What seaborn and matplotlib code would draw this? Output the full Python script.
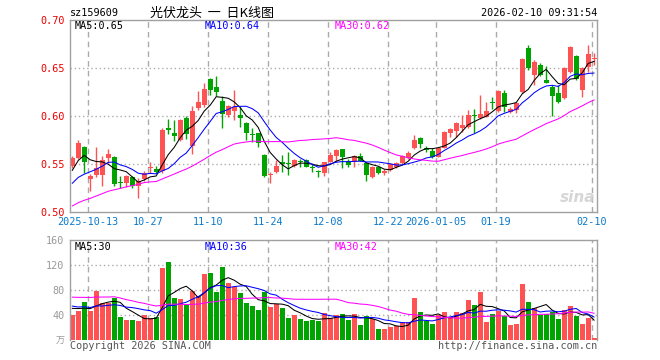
import numpy as np
import pandas as pd
import matplotlib
matplotlib.use("Agg")
import matplotlib.pyplot as plt
import seaborn as sns

# ---------------- data ----------------
open_ = [0.548, 0.556, 0.568, 0.534, 0.539, 0.539, 0.556, 0.557, 0.5305, 0.530,
         0.536, 0.527, 0.534, 0.5455, 0.545, 0.5425, 0.587, 0.582, 0.575, 0.598,
         0.569, 0.608, 0.611, 0.6385, 0.6305, 0.6155, 0.601, 0.6055, 0.601, 0.5925,
         0.581, 0.582, 0.5595, 0.5385, 0.542, 0.551, 0.5507, 0.548, 0.5528, 0.554,
         0.547, 0.5423, 0.541, 0.5524, 0.5583, 0.5656, 0.5535, 0.5524, 0.5583, 0.5514,
         0.5361, 0.5472, 0.5403, 0.5437, 0.5472, 0.5507, 0.5559, 0.5663, 0.5767, 0.567,
         0.5639, 0.5576, 0.567, 0.5826, 0.5844, 0.5872, 0.5882, 0.6003, 0.5976, 0.5993,
         0.6141, 0.6056, 0.6243, 0.6045, 0.6063, 0.6253, 0.6705, 0.6427, 0.6531, 0.6375,
         0.6306, 0.6243, 0.6184, 0.6462, 0.6625, 0.6271, 0.6514, 0.6597]
high = [0.558, 0.575, 0.569, 0.540, 0.568, 0.558, 0.566, 0.558, 0.538, 0.539,
        0.537, 0.535, 0.543, 0.552, 0.548, 0.588, 0.597, 0.596, 0.5965, 0.600,
        0.610, 0.626, 0.634, 0.6395, 0.642, 0.621, 0.6115, 0.627, 0.609, 0.594,
        0.587, 0.582, 0.560, 0.542, 0.554, 0.5595, 0.563, 0.555, 0.555, 0.555,
        0.550, 0.5437, 0.5525, 0.563, 0.566, 0.566, 0.555, 0.559, 0.5618, 0.5524,
        0.548, 0.548, 0.5444, 0.5507, 0.5524, 0.5594, 0.5639, 0.5802, 0.5778, 0.5688,
        0.5663, 0.568, 0.5847, 0.5872, 0.5941, 0.601, 0.6063, 0.607, 0.6219, 0.6149,
        0.620, 0.627, 0.627, 0.609, 0.6149, 0.660, 0.674, 0.6583, 0.6556, 0.652,
        0.6323, 0.6323, 0.6507, 0.673, 0.6635, 0.6514, 0.674, 0.666]
low = [0.546, 0.555, 0.541, 0.522, 0.536, 0.527, 0.551, 0.527, 0.525, 0.526,
       0.525, 0.515, 0.532, 0.5405, 0.5405, 0.541, 0.581, 0.574, 0.574, 0.576,
       0.560, 0.6065, 0.609, 0.622, 0.621, 0.588, 0.599, 0.596, 0.589, 0.5755,
       0.573, 0.568, 0.536, 0.530, 0.541, 0.542, 0.5385, 0.547, 0.547, 0.5465,
       0.542, 0.536, 0.537, 0.552, 0.5524, 0.5455, 0.547, 0.547, 0.553, 0.5326,
       0.535, 0.5396, 0.5385, 0.543, 0.5455, 0.550, 0.5548, 0.5653, 0.5663, 0.5628,
       0.556, 0.557, 0.5663, 0.5785, 0.5785, 0.5837, 0.5872, 0.5826, 0.5965, 0.5986,
       0.607, 0.6045, 0.6045, 0.6028, 0.6028, 0.6243, 0.6479, 0.6323, 0.6417, 0.634,
       0.600, 0.6139, 0.6174, 0.6451, 0.6375, 0.620, 0.6462, 0.6531]
close = [0.556, 0.572, 0.552, 0.537, 0.546, 0.554, 0.560, 0.529, 0.530, 0.537,
         0.527, 0.532, 0.541, 0.546, 0.5415, 0.585, 0.585, 0.579, 0.596, 0.581,
         0.6055, 0.615, 0.628, 0.627, 0.625, 0.602, 0.6105, 0.609, 0.5975, 0.582,
         0.5805, 0.5715, 0.537, 0.539, 0.548, 0.5505, 0.5503, 0.554, 0.552, 0.547,
         0.5462, 0.542, 0.5524, 0.5594, 0.5646, 0.557, 0.549, 0.5583, 0.5535, 0.5385,
         0.5472, 0.541, 0.543, 0.550, 0.5514, 0.5583, 0.5618, 0.575, 0.5708, 0.5646,
         0.5576, 0.567, 0.5837, 0.5861, 0.5931, 0.5906, 0.601, 0.5997, 0.6017, 0.6056,
         0.6137, 0.6264, 0.6097, 0.6069, 0.6132, 0.659, 0.6497, 0.6566, 0.6427, 0.6347,
         0.6208, 0.6149, 0.6497, 0.6722, 0.6382, 0.6497, 0.6642, 0.6603]
volume = [40, 46.4, 60.3, 46.4, 78.9, 58.7, 58.7, 67.7, 37.3, 32,
          32, 30.4, 40, 34.7, 37.3, 115.7, 125.3, 67.7, 65.6, 56,
          78.4, 71, 105.6, 107.5, 76.8, 117.2, 91.5, 85.3, 75.5, 59,
          54.6, 48, 76.5, 53.3, 57, 52, 35.7, 40, 33, 31,
          32, 30, 43.7, 35.2, 40, 41.6, 32.5, 41.6, 24, 38.9,
          33.6, 17.6, 17.6, 21.2, 23, 28.2, 28.6, 67.7, 44.8, 30.7,
          25.6, 40, 44.8, 35.7, 44.8, 43.5, 64, 56, 77, 29,
          41.6, 46.6, 38.4, 24.5, 26, 89.6, 61, 51.5, 40, 41.6,
          45.3, 33.6, 48, 54.7, 39, 25.6, 35.5, 3.4]
# closes / volumes of the 29 sessions before the window (needed for the MAs at the left edge)
hist_close = [0.470, 0.475, 0.478, 0.472, 0.480, 0.485, 0.483, 0.488, 0.486, 0.490,
              0.492, 0.485, 0.525, 0.530, 0.505, 0.510, 0.500, 0.515, 0.508, 0.512,
              0.510, 0.518, 0.512, 0.520, 0.522, 0.520, 0.525, 0.560, 0.555]
hist_volume = [55, 60, 52, 58, 62, 54, 58, 95, 110, 88,
               102, 92, 105, 94, 78, 72, 70, 66, 74, 68,
               62, 55, 60, 52, 61, 48, 57, 50, 58]

date_pos = [3, 13, 23, 33, 43, 53, 61, 71, 87]
date_labels = ["2025-10-13", "10-27", "11-10", "11-24", "12-08", "12-22",
               "2026-01-05", "01-19", "02-10"]
price_ticks = [0.50, 0.55, 0.60, 0.65, 0.70]
price_labels = ["0.50", "0.55", "0.60", "0.65", "0.70"]
vol_ticks = [40, 80, 120, 160]
vol_labels = ["40", "80", "120", "160"]
ma_price_text = ["MA5:0.65", "MA10:0.64", "MA30:0.62"]
ma_vol_text = ["MA5:30", "MA10:36", "MA30:42"]
ma_windows = [5, 10, 30]

# ---------------- styling ----------------
RED = "#ff5252"
GREEN = "#00a400"
MA_COLORS = ["#000000", "#0000ff", "#ff00ff"]
GRID = "#ababab"
SPINE = "#a0a0a0"
DATE_BLUE = "#0a7acc"

sns.set_style("white")
plt.rcParams["font.family"] = ["DejaVu Sans Mono", "Noto Sans CJK SC"]

W, H = 660, 360
fig = plt.figure(figsize=(W / 100, H / 100), dpi=100)
fig.patch.set_facecolor("white")

def fx(x):
    return x / W

def fy(y):
    return 1 - y / H

ax = fig.add_axes([fx(70), fy(212), (597 - 70) / W, (212 - 20) / H])
axv = fig.add_axes([fx(70), fy(340), (597 - 70) / W, (340 - 240) / H])

n = len(close)
idx = np.arange(n)
o = np.array(open_)
c = np.array(close)
hi = np.array(high)
lo = np.array(low)
up = c >= o
colors = np.where(up, RED, GREEN)

all_close = pd.Series(hist_close + close)
all_vol = pd.Series(hist_volume + volume)
nh = len(hist_close)

xmin = -2.2 / 6
xmax = (597 - 72.2) / 6

# ---------------- price panel ----------------
for y in price_ticks[1:-1]:
    ax.axhline(y, color=GRID, lw=1, ls=(0, (1, 2)), zorder=0)
for p in date_pos:
    ax.axvline(p - 0.35, color=GRID, lw=1, ls=(0, (4, 3)), zorder=0)

ax.vlines(idx, lo, hi, colors=colors, lw=1, zorder=2)
body_h = np.maximum(np.abs(c - o), 0.0011)
ax.bar(idx, body_h, bottom=np.minimum(o, c), width=0.83, color=colors,
       linewidth=0, zorder=2)

for w, col in zip(ma_windows, MA_COLORS):
    ma = all_close.rolling(w).mean().values[nh:]
    sns.lineplot(x=idx, y=ma, color=col, lw=0.75, ax=ax, zorder=3)

ax.set_xlim(xmin, xmax)
ax.set_ylim(0.50, 0.70)
ax.set_yticks(price_ticks)
ax.set_yticklabels(price_labels, color="#ee0000", fontsize=7.3)
ax.set_xticks([p - 0.35 for p in date_pos])
ax.set_xticklabels(date_labels, color=DATE_BLUE, fontsize=7.3)
ax.tick_params(axis="both", length=0)
ax.tick_params(axis="y", pad=4)
ax.tick_params(axis="x", pad=3.5)
for s in ax.spines.values():
    s.set_color(SPINE)
    s.set_linewidth(1)

# ---------------- volume panel ----------------
vdf = pd.DataFrame({"k": idx, "vol": volume, "up": np.where(up, "up", "down")})
for y in vol_ticks[:-1]:
    axv.axhline(y, color=GRID, lw=1, ls=(0, (1, 2)), zorder=0)
for p in date_pos:
    axv.axvline(p - 0.35, color=GRID, lw=1, ls=(0, (4, 3)), zorder=0)

sns.barplot(data=vdf, x="k", y="vol", hue="up", palette={"up": RED, "down": GREEN},
            native_scale=True, dodge=False, width=0.83, linewidth=0, saturation=1,
            errorbar=None, legend=False, ax=axv, zorder=2)

for w, col in zip(ma_windows, MA_COLORS):
    mv = all_vol.rolling(w).mean().values[nh:]
    sns.lineplot(x=idx, y=mv, color=col, lw=0.75, ax=axv, zorder=3)

axv.set_xlim(xmin, xmax)
axv.set_ylim(0, 160)
axv.set_yticks(vol_ticks)
axv.set_yticklabels(vol_labels, color="#999999", fontsize=7.3)
axv.set_xticks([])
axv.set_xlabel("")
axv.set_ylabel("")
axv.tick_params(axis="both", length=0)
axv.tick_params(axis="y", pad=4)
for name, s in axv.spines.items():
    s.set_color(SPINE)
    s.set_linewidth(1)
axv.spines["bottom"].set_visible(False)

# ---------------- texts ----------------
fs = 7.3
fig.text(fx(70), fy(13.5), "sz159609", fontsize=fs, color="#000000", va="center", ha="left")
fig.text(fx(150), fy(13.5), "光伏龙头  一  日K线图", fontsize=9.4, color="#000000",
         va="center", ha="left", family=["Noto Sans CJK SC", "DejaVu Sans"])
fig.text(fx(597), fy(13.5), "2026-02-10 09:31:54", fontsize=fs, color="#000000",
         va="center", ha="right")

for t, col, x in zip(ma_price_text, MA_COLORS, [75, 205, 335]):
    fig.text(fx(x), fy(26), t, fontsize=fs, color=col, va="center", ha="left")
for t, col, x in zip(ma_vol_text, MA_COLORS, [75, 205, 335]):
    fig.text(fx(x), fy(247), t, fontsize=fs, color=col, va="center", ha="left")

fig.text(fx(65), fy(341), "万", fontsize=6.5, color="#999999", va="center", ha="right",
         family=["Noto Sans CJK SC", "DejaVu Sans"])
fig.text(fx(70), fy(346), "Copyright 2026 SINA.COM", fontsize=fs, color="#555555",
         va="center", ha="left")
fig.text(fx(597), fy(346), "http://finance.sina.com.cn", fontsize=fs, color="#555555",
         va="center", ha="right")
fig.text(fx(595), fy(197), "sina", fontsize=11, color="#cccccc", alpha=0.8,
         va="center", ha="right", style="italic", weight="bold", family="DejaVu Sans")

fig.savefig("out.png", dpi=100, facecolor="white")
